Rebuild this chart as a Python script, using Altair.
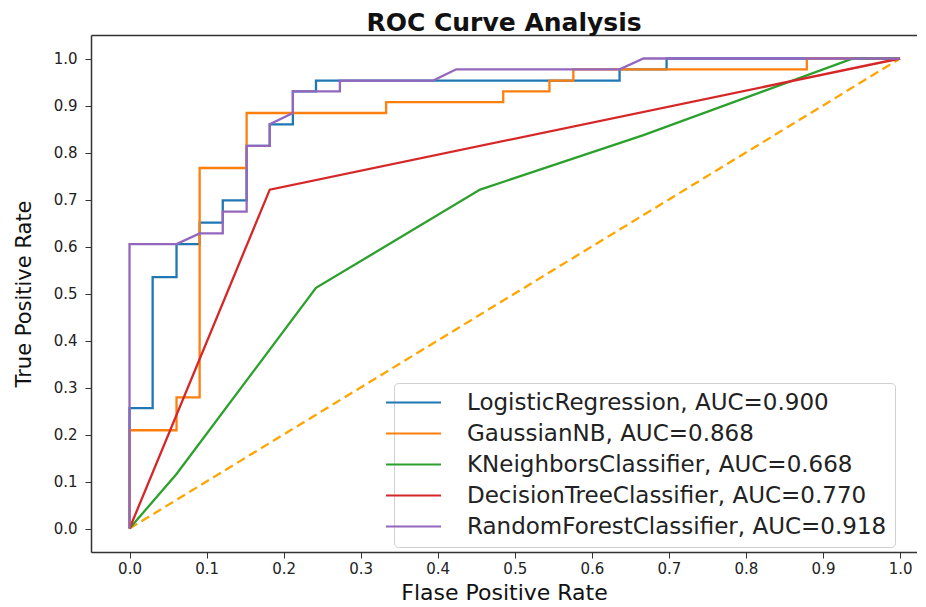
import altair as alt
import pandas as pd

# ---------------- data ----------------
models = ["LogisticRegression", "GaussianNB", "KNeighborsClassifier",
          "DecisionTreeClassifier", "RandomForestClassifier"]
aucs = [0.900, 0.868, 0.668, 0.770, 0.918]
colors = ["#1f77b4", "#ff7f0e", "#2ca02c", "#d62728", "#9467bd"]

lr_fpr = [0.0, 0.0, 0.030, 0.030, 0.061, 0.061, 0.091, 0.091, 0.121, 0.121, 0.152, 0.152,
          0.182, 0.182, 0.212, 0.212, 0.242, 0.242, 0.636, 0.636, 0.697, 0.697, 1.0]
lr_tpr = [0.0, 0.256, 0.256, 0.535, 0.535, 0.605, 0.605, 0.651, 0.651, 0.698, 0.698, 0.814,
          0.814, 0.860, 0.860, 0.930, 0.930, 0.953, 0.953, 0.977, 0.977, 1.0, 1.0]

gnb_fpr = [0.0, 0.0, 0.061, 0.061, 0.091, 0.091, 0.152, 0.152, 0.333, 0.333, 0.485, 0.485,
           0.545, 0.545, 0.576, 0.576, 0.879, 0.879, 1.0]
gnb_tpr = [0.0, 0.209, 0.209, 0.279, 0.279, 0.767, 0.767, 0.884, 0.884, 0.907, 0.907, 0.930,
           0.930, 0.953, 0.953, 0.977, 0.977, 1.0, 1.0]

knn_fpr = [0.0, 0.061, 0.242, 0.455, 0.667, 0.939, 1.0]
knn_tpr = [0.0, 0.116, 0.512, 0.721, 0.837, 1.0, 1.0]

dt_fpr = [0.0, 0.182, 1.0]
dt_tpr = [0.0, 0.721, 1.0]

rf_fpr = [0.0, 0.0, 0.061, 0.091, 0.121, 0.121, 0.152, 0.152, 0.182, 0.182, 0.212, 0.212,
          0.273, 0.273, 0.394, 0.424, 0.636, 0.667, 1.0]
rf_tpr = [0.0, 0.605, 0.605, 0.628, 0.628, 0.674, 0.674, 0.814, 0.814, 0.860, 0.884, 0.930,
          0.930, 0.953, 0.953, 0.977, 0.977, 1.0, 1.0]

diag_fpr = [0.0, 1.0]
diag_tpr = [0.0, 1.0]

x_ticks = [0.0, 0.1, 0.2, 0.3, 0.4, 0.5, 0.6, 0.7, 0.8, 0.9, 1.0]
y_ticks = [0.0, 0.1, 0.2, 0.3, 0.4, 0.5, 0.6, 0.7, 0.8, 0.9, 1.0]

# ---------------- tables ----------------
labels = [f"{m}, AUC={a:.3f}" for m, a in zip(models, aucs)]
curves = [(lr_fpr, lr_tpr), (gnb_fpr, gnb_tpr), (knn_fpr, knn_tpr),
          (dt_fpr, dt_tpr), (rf_fpr, rf_tpr)]
rows = []
for lab, (fx, ty) in zip(labels, curves):
    for i, (a, b) in enumerate(zip(fx, ty)):
        rows.append({"model": lab, "fpr": a, "tpr": b, "idx": i})
df = pd.DataFrame(rows)
diag = pd.DataFrame({"fpr": diag_fpr, "tpr": diag_tpr, "idx": list(range(len(diag_fpr)))})

FONT = "DejaVu Sans"
xscale = alt.Scale(domain=[-0.05, 1.022], nice=False, zero=False)
yscale = alt.Scale(domain=[-0.05, 1.05], nice=False, zero=False)

lines = alt.Chart(df).mark_line(strokeWidth=2.3, interpolate="linear").encode(
    x=alt.X("fpr:Q", scale=xscale,
            axis=alt.Axis(values=x_ticks, format=".1f", title="Flase Positive Rate",
                          grid=False, orient="bottom", tickSize=6, labelPadding=3,
                          titleY=47, titleBaseline="alphabetic",
                          titleFontSize=22, titleFontWeight="normal",
                          labelFontSize=15, labelFont=FONT, titleFont=FONT,
                          domainColor="#333", domainWidth=1.5, tickColor="#333",
                          labelColor="#222", titleColor="#111")),
    y=alt.Y("tpr:Q", scale=yscale,
            axis=alt.Axis(values=y_ticks, format=".1f", title="True Positive Rate",
                          grid=False, tickSize=6, labelPadding=8, titlePadding=19,
                          titleFontSize=21, titleFontWeight="normal",
                          labelFontSize=15, labelFont=FONT, titleFont=FONT,
                          domainColor="#333", domainWidth=1.5, tickColor="#333",
                          labelColor="#222", titleColor="#111")),
    color=alt.Color("model:N", scale=alt.Scale(domain=labels, range=colors),
                    sort=labels,
                    legend=alt.Legend(title=None, orient="none", legendX=303, legendY=348,
                                      symbolType="M-5.5,0H5.5", symbolSize=100,
                                      symbolStrokeWidth=2, labelOffset=42,
                                      labelFontSize=23, labelFont=FONT, labelColor="#222",
                                      labelLimit=700, rowPadding=7, padding=8,
                                      strokeColor="#d0d0d0", fillColor="white",
                                      cornerRadius=4)),
    order="idx:Q",
)

diag_line = alt.Chart(diag).mark_line(color="#FFA500", strokeWidth=2.3,
                                      strokeDash=[9, 5]).encode(
    x=alt.X("fpr:Q", scale=xscale,
            axis=alt.Axis(orient="top", labels=False, ticks=False, title=None,
                          grid=False, domainColor="#333", domainWidth=1.5)),
    y=alt.Y("tpr:Q", scale=yscale),
    order="idx:Q",
)

chart = alt.layer(diag_line, lines).resolve_axis(x="independent").properties(
    width=826, height=517,
    autosize=alt.AutoSizeParams(type="none"),
    padding={"left": 83, "top": 27, "right": 0, "bottom": 53},
    title=alt.TitleParams("ROC Curve Analysis", font=FONT, fontSize=25,
                          fontWeight="bold", anchor="middle", offset=-1, color="#111"),
).configure_view(stroke=None).configure(background="white")

chart.save("out.html", embed_options={"renderer": "svg", "actions": False})
